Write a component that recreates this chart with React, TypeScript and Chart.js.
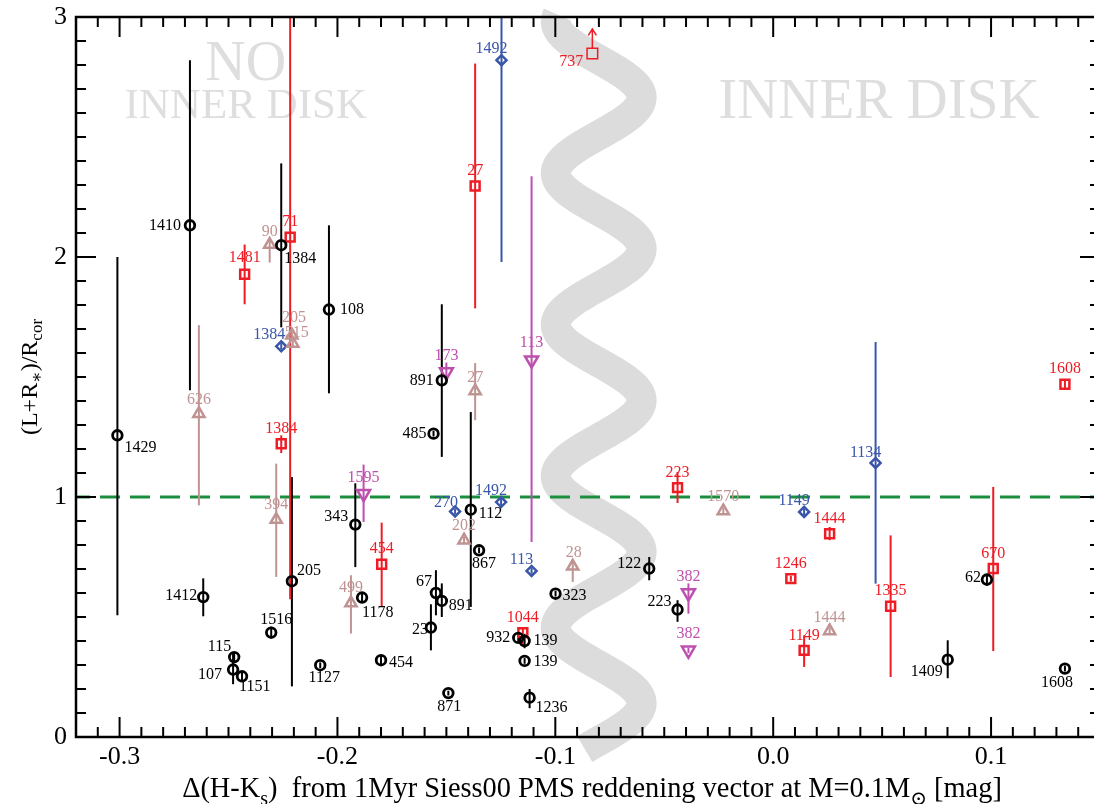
import React, { useEffect, useRef } from 'react';
import { Chart, registerables } from 'chart.js';
Chart.register(...registerables);

// ---------- axes ----------
const xMajorTicks = [-0.3, -0.2, -0.1, 0.0, 0.1];
const yMajorTicks = [0, 1, 2, 3];

// ---------- black circles ----------
const blkNames = ['1429','1410','1384','108','891','485','112','867','343','205','1412','1178','1516','115','107','1151','1127','454','67','891','23','871','323','932','139','139','1236','122','223','1409','62','1608'];
const blkX = [-0.301,-0.2677,-0.2258,-0.2039,-0.1521,-0.1559,-0.1388,-0.1350,-0.1918,-0.2209,-0.2616,-0.1887,-0.2304,-0.2474,-0.2479,-0.2438,-0.2079,-0.1800,-0.1548,-0.1521,-0.1571,-0.1491,-0.0999,-0.1170,-0.1141,-0.1141,-0.1118,-0.0569,-0.0439,0.0801,0.0981,0.1339];
const blkY = [1.257,2.132,2.049,1.781,1.486,1.264,0.947,0.778,0.885,0.649,0.583,0.581,0.435,0.333,0.281,0.253,0.299,0.320,0.600,0.567,0.456,0.183,0.597,0.413,0.400,0.317,0.164,0.702,0.531,0.322,0.656,0.285];
const blkLo = [0.507,1.445,1.707,1.432,1.167,1.252,0.542,0.766,0.708,0.211,0.503,0.562,0.41,0.313,0.22,0.233,0.287,0.300,0.507,0.500,0.361,0.173,0.585,0.393,0.370,0.305,0.120,0.653,0.480,0.245,0.630,0.273];
const blkHi = [2.000,2.820,2.390,2.132,1.803,1.276,1.354,0.790,1.057,1.083,0.661,0.600,0.46,0.353,0.35,0.273,0.311,0.340,0.695,0.640,0.553,0.193,0.609,0.433,0.430,0.329,0.200,0.750,0.570,0.403,0.680,0.297];
const blkLab: [string, number, number][] = [
  ['left',7,12],['right',-9,0],['left',3,14],['left',11,0],['right',-8,0],['right',-7,0],['left',8,4],['center',5,14],
  ['right',-7,-8],['left',5,-10],['right',-6,-1],['left',0,15],['center',5,-13],['right',-3,-10],['right',-11,5],['left',-3,11],
  ['center',4,13],['left',8,3],['right',-4,-11],['left',7,5],['right',-3,2],['center',1,14],['left',7,2],['right',-8,0],
  ['left',9,0],['left',9,1],['left',6,10],['right',-8,-5],['right',-6,-8],['right',-5,12],['right',-6,-2],['center',-8,14]
];

// ---------- red squares ----------
const redNames = ['27','71','1481','1384','454','1044','223','1246','1444','1149','1335','670','1608'];
const redX = [-0.1368,-0.2217,-0.2426,-0.2258,-0.1797,-0.1149,-0.0439,0.0081,0.0259,0.0142,0.0539,0.1010,0.1339];
const redY = [2.296,2.083,1.928,1.222,0.720,0.435,1.039,0.660,0.847,0.361,0.545,0.702,1.470];
const redLo = [1.786,0.574,1.803,1.183,0.542,0.382,0.975,0.648,0.820,0.292,0.250,0.358,1.450];
const redHi = [2.806,3.200,2.052,1.257,0.893,0.458,1.104,0.672,0.875,0.424,0.840,1.042,1.490];
const redLab: [string, number, number][] = redNames.map((_, i) => ['center', 0, i === 2 ? -16 : -15]);

// lower-limit point
const limName = '737';
const limX = -0.0830;
const limY = 2.848;

// ---------- rosy triangles ----------
const rosNames = ['90','205','515','626','394','499','27','202','28','1570','1444'];
const rosX = [-0.2311,-0.2209,-0.2205,-0.2636,-0.2281,-0.1938,-0.1368,-0.1419,-0.0920,-0.0229,0.0259];
const rosY = [2.052,1.674,1.640,1.347,0.906,0.558,1.442,0.820,0.711,0.942,0.442];
const rosLo = [1.977,1.660,1.625,0.965,0.667,0.431,1.320,0.805,0.646,0.927,0.427];
const rosHi = [2.080,1.690,1.655,1.716,1.139,0.674,1.558,0.835,0.740,0.957,0.457];
const rosLab: [string, number, number][] = [
  ['center',0,-13],['center',2,-17],['center',4,-11],['center',0,-14],['center',0,-15],['center',0,-15],
  ['center',0,-13],['center',0,-14],['center',1,-14],['center',0,-14],['center',0,-13]
];

// ---------- blue diamonds ----------
const bluNames = ['1492','1384','270','1492','113','1149','1134'];
const bluX = [-0.1247,-0.2258,-0.1460,-0.1249,-0.1109,0.0142,0.0470];
const bluY = [2.820,1.628,0.940,0.979,0.692,0.938,1.142];
const bluLo = [1.979,1.615,0.928,0.966,0.680,0.925,0.639];
const bluHi = [3.200,1.641,0.952,0.992,0.704,0.951,1.646];
const bluLab: [string, number, number][] = [
  ['center',-10,-11],['center',-12,-11],['center',-9,-9],['center',-10,-11],['center',-10,-11],['center',-10,-11],['center',-10,-10]
];

// ---------- magenta down triangles ----------
const magNames = ['173','113','1595','382','382'];
const magX = [-0.1500,-0.1109,-0.1880,-0.0389,-0.0389];
const magY = [1.521,1.570,1.014,0.600,0.361];
const magLo = [1.490,0.813,0.896,0.514,0.350];
const magHi = [1.560,2.336,1.135,0.640,0.372];
const magLab: [string, number, number][] = [
  ['center',0,-16],['center',0,-17],['center',0,-16],['center',0,-16],['center',0,-17]
];

// ---------- decorations (data units) ----------
const waveCenter = -0.0801;
const waveAmp = 0.0197;
const wavePeriod = 0.631;
const wavePeakY = 2.665;
const waveTop = 3.01;
const waveBottom = -0.05;
const thresholdY = 1;

const SERIF = '"Liberation Serif", "DejaVu Serif", serif';

type Seg = { t: string; sub?: boolean };

function drawRich(ctx: CanvasRenderingContext2D, segs: Seg[], cx: number, baseY: number, size: number, subScale: number, subShift: number) {
  const fonts = segs.map(s => `${s.sub ? Math.round(size * subScale) : size}px ${SERIF}`);
  let total = 0;
  const ws = segs.map((s, i) => { ctx.font = fonts[i]; const w = ctx.measureText(s.t).width; total += w; return w; });
  let x = cx - total / 2;
  ctx.textAlign = 'left';
  ctx.textBaseline = 'alphabetic';
  segs.forEach((s, i) => {
    ctx.font = fonts[i];
    ctx.fillText(s.t, x, baseY + (s.sub ? subShift : 0));
    x += ws[i];
  });
}

type Group = {
  names: string[]; xs: number[]; ys: number[]; lo: number[]; hi: number[];
  lab: [string, number, number][]; color: string; style: string; radius: number; rotation: number; bw: number;
};

const groups: Group[] = [
  { names: blkNames, xs: blkX, ys: blkY, lo: blkLo, hi: blkHi, lab: blkLab, color: '#000000', style: 'circle', radius: 4.8, rotation: 0, bw: 2.8 },
  { names: rosNames, xs: rosX, ys: rosY, lo: rosLo, hi: rosHi, lab: rosLab, color: '#c09393', style: 'triangle', radius: 6.5, rotation: 0, bw: 2.5 },
  { names: magNames, xs: magX, ys: magY, lo: magLo, hi: magHi, lab: magLab, color: '#bd4fae', style: 'triangle', radius: 7.5, rotation: 180, bw: 2.5 },
  { names: bluNames, xs: bluX, ys: bluY, lo: bluLo, hi: bluHi, lab: bluLab, color: '#3a56a8', style: 'rectRot', radius: 5, rotation: 0, bw: 2.5 },
  { names: redNames, xs: redX, ys: redY, lo: redLo, hi: redHi, lab: redLab, color: '#ee1c25', style: 'rect', radius: 6.3, rotation: 0, bw: 2.5 },
];

const decor = {
  id: 'decor',
  beforeDatasetsDraw(chart: any) {
    const ctx: CanvasRenderingContext2D = chart.ctx;
    const sx = chart.scales.x, sy = chart.scales.y;
    const { left, right, top, bottom } = chart.chartArea;
    ctx.save();
    // wave
    ctx.beginPath();
    const N = 400;
    for (let i = 0; i <= N; i++) {
      const yv = waveTop + (waveBottom - waveTop) * i / N;
      const xv = waveCenter + waveAmp * Math.cos(2 * Math.PI * (yv - wavePeakY) / wavePeriod);
      const px = sx.getPixelForValue(xv), py = sy.getPixelForValue(yv);
      if (i === 0) ctx.moveTo(px, py); else ctx.lineTo(px, py);
    }
    ctx.strokeStyle = '#dcdcdc';
    ctx.lineWidth = 30;
    ctx.lineCap = 'butt';
    ctx.lineJoin = 'round';
    ctx.stroke();
    // region texts
    ctx.fillStyle = '#dedede';
    ctx.textAlign = 'center';
    ctx.textBaseline = 'alphabetic';
    ctx.font = `56px ${SERIF}`;
    ctx.fillText('NO', sx.getPixelForValue(-0.2421), sy.getPixelForValue(2.736));
    ctx.font = `43px ${SERIF}`;
    ctx.fillText('INNER DISK', sx.getPixelForValue(-0.2421), sy.getPixelForValue(2.578));
    ctx.font = `57px ${SERIF}`;
    ctx.fillText('INNER DISK', sx.getPixelForValue(0.0485), sy.getPixelForValue(2.578));
    // clip to plot area for bars and dashed line
    ctx.beginPath();
    ctx.rect(left, top, right - left, bottom - top);
    ctx.clip();
    // dashed threshold
    const yp = sy.getPixelForValue(thresholdY);
    ctx.beginPath();
    ctx.setLineDash([20, 10]);
    ctx.lineDashOffset = -24;
    ctx.moveTo(left, yp);
    ctx.lineTo(right, yp);
    ctx.strokeStyle = '#1b8f3f';
    ctx.lineWidth = 3.2;
    ctx.stroke();
    ctx.setLineDash([]);
    // error bars
    groups.forEach(g => {
      ctx.strokeStyle = g.color;
      ctx.lineWidth = 2;
      g.xs.forEach((xv, i) => {
        const px = sx.getPixelForValue(xv);
        ctx.beginPath();
        ctx.moveTo(px, sy.getPixelForValue(g.lo[i]));
        ctx.lineTo(px, sy.getPixelForValue(g.hi[i]));
        ctx.stroke();
      });
    });
    ctx.restore();
  },
  afterDatasetsDraw(chart: any) {
    const ctx: CanvasRenderingContext2D = chart.ctx;
    const sx = chart.scales.x, sy = chart.scales.y;
    ctx.save();
    ctx.font = `16px ${SERIF}`;
    ctx.textBaseline = 'middle';
    groups.forEach(g => {
      ctx.fillStyle = g.color;
      g.names.forEach((n, i) => {
        const [al, dx, dy] = g.lab[i];
        ctx.textAlign = al as CanvasTextAlign;
        ctx.fillText(n, sx.getPixelForValue(g.xs[i]) + dx, sy.getPixelForValue(g.ys[i]) + dy);
      });
    });
    // lower limit arrow for 737
    const px = sx.getPixelForValue(limX), py = sy.getPixelForValue(limY);
    ctx.strokeStyle = '#ee1c25';
    ctx.fillStyle = '#ee1c25';
    ctx.lineWidth = 1.5;
    ctx.beginPath();
    ctx.moveTo(px, py - 5.5);
    ctx.lineTo(px, py - 24);
    ctx.moveTo(px - 4, py - 18);
    ctx.lineTo(px, py - 24.5);
    ctx.lineTo(px + 4, py - 18);
    ctx.stroke();
    ctx.textAlign = 'right';
    ctx.fillText(limName, px - 9, py + 8);
    ctx.restore();
  },
  afterDraw(chart: any) {
    const ctx: CanvasRenderingContext2D = chart.ctx;
    const sx = chart.scales.x, sy = chart.scales.y;
    const { left, right, top, bottom } = chart.chartArea;
    ctx.save();
    ctx.strokeStyle = '#000';
    // ticks
    ctx.lineWidth = 2;
    ctx.beginPath();
    for (let k = -31; k <= 14; k++) {
      const len = k % 10 === 0 ? 20 : 10;
      const px = sx.getPixelForValue(k / 100);
      ctx.moveTo(px, bottom); ctx.lineTo(px, bottom - len);
      ctx.moveTo(px, top); ctx.lineTo(px, top + len);
    }
    for (let k = 1; k <= 29; k++) {
      const len = k % 10 === 0 ? 20 : 10;
      const py = sy.getPixelForValue(k / 10);
      ctx.moveTo(left, py); ctx.lineTo(left + len, py);
      ctx.moveTo(right, py); ctx.lineTo(right - len, py);
    }
    ctx.stroke();
    // frame
    ctx.lineWidth = 2.5;
    ctx.strokeRect(left, top, right - left, bottom - top);
    // axis titles
    ctx.fillStyle = '#000';
    drawRich(ctx, [
      { t: 'Δ(H-K' }, { t: 's', sub: true },
      { t: ')  from 1Myr Siess00 PMS reddening vector at M=0.1M' }, { t: '⊙', sub: true }, { t: ' [mag]' }
    ], (left + right) / 2 + 4, bottom + 60, 28.4, 0.7, 8);
    ctx.save();
    ctx.translate(left - 39, (top + bottom) / 2);
    ctx.rotate(-Math.PI / 2);
    drawRich(ctx, [
      { t: '(L+R' }, { t: '∗', sub: true }, { t: ')/R' }, { t: 'cor', sub: true }
    ], 0, 0, 24, 0.7, 5);
    ctx.restore();
    ctx.restore();
  }
};

export default function App() {
  const ref = useRef<HTMLCanvasElement | null>(null);
  useEffect(() => {
    document.body.style.margin = '0';
    const canvas = ref.current;
    if (!canvas) return;
    const datasets: any[] = groups.map(g => ({
      data: g.xs.map((x, i) => ({ x, y: g.ys[i] })),
      pointStyle: g.style,
      pointRadius: g.radius,
      pointRotation: g.rotation,
      pointBorderWidth: g.bw,
      pointBorderColor: g.color,
      pointBackgroundColor: 'rgba(0,0,0,0)',
      showLine: false,
    }));
    datasets.push({
      data: [{ x: limX, y: limY }],
      pointStyle: 'rect',
      pointRadius: 7.5,
      pointBorderWidth: 1.5,
      pointBorderColor: '#ee1c25',
      pointBackgroundColor: 'rgba(0,0,0,0)',
      showLine: false,
    });
    const chart = new Chart(canvas, {
      type: 'scatter',
      data: { datasets },
      options: {
        animation: false,
        responsive: false,
        devicePixelRatio: 1,
        events: [],
        layout: { padding: { top: 17, right: 7, left: 0, bottom: 0 } },
        plugins: { legend: { display: false }, tooltip: { enabled: false } },
        scales: {
          x: {
            type: 'linear', min: -0.32, max: 0.15,
            grid: { display: false, drawTicks: false },
            border: { display: false },
            afterBuildTicks: (s: any) => { s.ticks = xMajorTicks.map(v => ({ value: v })); },
            afterFit: (s: any) => { s.height = 67; s.paddingLeft = 0; s.paddingRight = 0; },
            ticks: {
              font: { family: SERIF, size: 26 }, color: '#000', padding: 5,
              maxRotation: 0, autoSkip: false,
              callback: (v: any) => Number(v).toFixed(1),
            },
          },
          y: {
            type: 'linear', min: 0, max: 3,
            grid: { display: false, drawTicks: false },
            border: { display: false },
            afterBuildTicks: (s: any) => { s.ticks = yMajorTicks.map(v => ({ value: v })); },
            afterFit: (s: any) => { s.width = 76; s.paddingTop = 0; s.paddingBottom = 0; },
            ticks: {
              font: { family: SERIF, size: 26 }, color: '#000', padding: 9,
              autoSkip: false,
              callback: (v: any) => String(v),
            },
          },
        },
      } as any,
      plugins: [decor as any],
    });
    return () => chart.destroy();
  }, []);
  return (
    <div style={{ width: 1094, height: 804, overflow: 'hidden', background: '#fff' }}>
      <canvas ref={ref} width={1110} height={804} style={{ display: 'block' }} />
    </div>
  );
}
